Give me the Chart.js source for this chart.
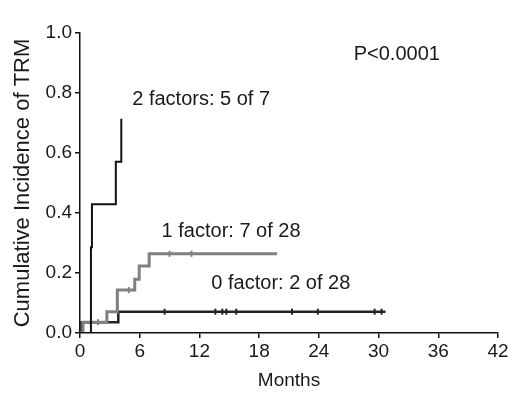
<!DOCTYPE html>
<html>
<head>
<meta charset="utf-8">
<script src="https://cdn.jsdelivr.net/npm/chart.js@4/dist/chart.umd.min.js"></script>
<style>
  html, body { margin: 0; padding: 0; background: #fff; }
  #wrap { width: 520px; height: 399px; }
</style>
</head>
<body>
<div id="wrap"><canvas id="cif"></canvas></div>
<script>
// cumulative incidence curves (months, value after the step)
var twoTimes = [0, 1.1, 1.2, 3.6, 4.15];
var twoVals  = [0, 0.286, 0.429, 0.571, 0.714];

var oneTimes = [0, 0.3, 2.7, 3.75, 5.5, 5.95, 6.95, 19.8];
var oneVals  = [0, 0.036, 0.071, 0.143, 0.179, 0.223, 0.264, 0.264];

var zeroTimes = [0, 0.15, 3.85, 30.7];
var zeroVals  = [0, 0.036, 0.071, 0.071];

// censored observations (months)
var oneCensor  = [1.8, 4.9, 9.0, 11.2];
var zeroCensor = [8.5, 13.6, 14.3, 14.7, 15.7, 21.3, 23.9, 29.6, 30.3];

var xTicks = [0, 6, 12, 18, 24, 30, 36, 42];
var yTicks = [0, 0.2, 0.4, 0.6, 0.8, 1.0];

var labels = [
  { text: '2 factors: 5 of 7', x: 5.25, y: 0.778 },
  { text: '1 factor: 7 of 28', x: 8.2, y: 0.34 },
  { text: '0 factor: 2 of 28', x: 13.2, y: 0.166 },
  { text: 'P<0.0001', x: 27.5, y: 0.927 }
];

function pts(t, v) {
  var out = [];
  for (var i = 0; i < t.length; i++) out.push({ x: t[i], y: v[i] });
  return out;
}
// value of a step curve at time x
function stepAt(t, v, x) {
  var y = v[0];
  for (var i = 0; i < t.length; i++) { if (t[i] <= x) y = v[i]; }
  return y;
}
function censorPts(c, t, v) {
  return c.map(function (x) { return { x: x, y: stepAt(t, v, x) }; });
}

var FONT = "'Liberation Sans', Arial, sans-serif";

var textPlugin = {
  id: 'textPlugin',
  afterDatasetsDraw: function (chart) {
    var ctx = chart.ctx, xs = chart.scales.x, ys = chart.scales.y;
    ctx.save();
    ctx.font = '20px ' + FONT;
    ctx.fillStyle = '#1a1a1a';
    ctx.textAlign = 'left';
    ctx.textBaseline = 'middle';
    labels.forEach(function (l) {
      ctx.fillText(l.text, xs.getPixelForValue(l.x), ys.getPixelForValue(l.y));
    });
    ctx.restore();
  }
};

var lineDs = function (data, color, width, order) {
  return { type: 'line', data: data, stepped: 'before', borderColor: color,
           borderWidth: width, pointRadius: 0, fill: false, order: order };
};
var tickDs = function (data, color, order) {
  return { type: 'scatter', data: data, pointStyle: 'line', rotation: 90,
           pointRadius: 3, borderColor: color, borderWidth: 2, order: order };
};

new Chart(document.getElementById('cif'), {
  type: 'line',
  data: {
    datasets: [
      lineDs(pts(twoTimes, twoVals), '#111', 2, 1),
      lineDs(pts(oneTimes, oneVals), '#808080', 3, 2),
      tickDs(censorPts(oneCensor, oneTimes, oneVals), '#808080', 2),
      lineDs(pts(zeroTimes, zeroVals), '#222', 2.5, 3),
      tickDs(censorPts(zeroCensor, zeroTimes, zeroVals), '#222', 3)
    ]
  },
  options: {
    responsive: true,
    maintainAspectRatio: false,
    animation: false,
    layout: { padding: { top: 33, right: 22, bottom: 0, left: 0 } },
    plugins: { legend: { display: false }, tooltip: { enabled: false } },
    scales: {
      x: {
        type: 'linear', min: 0, max: 42,
        afterBuildTicks: function (s) { s.ticks = xTicks.map(function (v) { return { value: v }; }); },
        afterFit: function (s) { s.height = 66; },
        grid: { display: true, drawOnChartArea: false, tickLength: 5, color: '#111', lineWidth: 1.5 },
        border: { color: '#111', width: 1.5 },
        ticks: { padding: 2, color: '#1a1a1a', font: { size: 19, family: FONT }, maxRotation: 0 },
        title: { display: true, text: 'Months', color: '#1a1a1a', padding: { top: 0, bottom: 7 },
                 font: { size: 19, family: FONT } }
      },
      y: {
        type: 'linear', min: 0, max: 1,
        afterBuildTicks: function (s) { s.ticks = yTicks.map(function (v) { return { value: v }; }); },
        afterFit: function (s) { s.width = 80; },
        grid: { display: true, drawOnChartArea: false, tickLength: 5, color: '#111', lineWidth: 1.5 },
        border: { color: '#111', width: 1.5 },
        ticks: { padding: 3, color: '#1a1a1a', font: { size: 19, family: FONT },
                 callback: function (v) { return v.toFixed(1); } },
        title: { display: true, text: 'Cumulative Incidence of TRM', color: '#1a1a1a',
                 padding: { top: 10, bottom: 0 }, font: { size: 22, family: FONT } }
      }
    }
  },
  plugins: [textPlugin]
});
</script>
</body>
</html>
